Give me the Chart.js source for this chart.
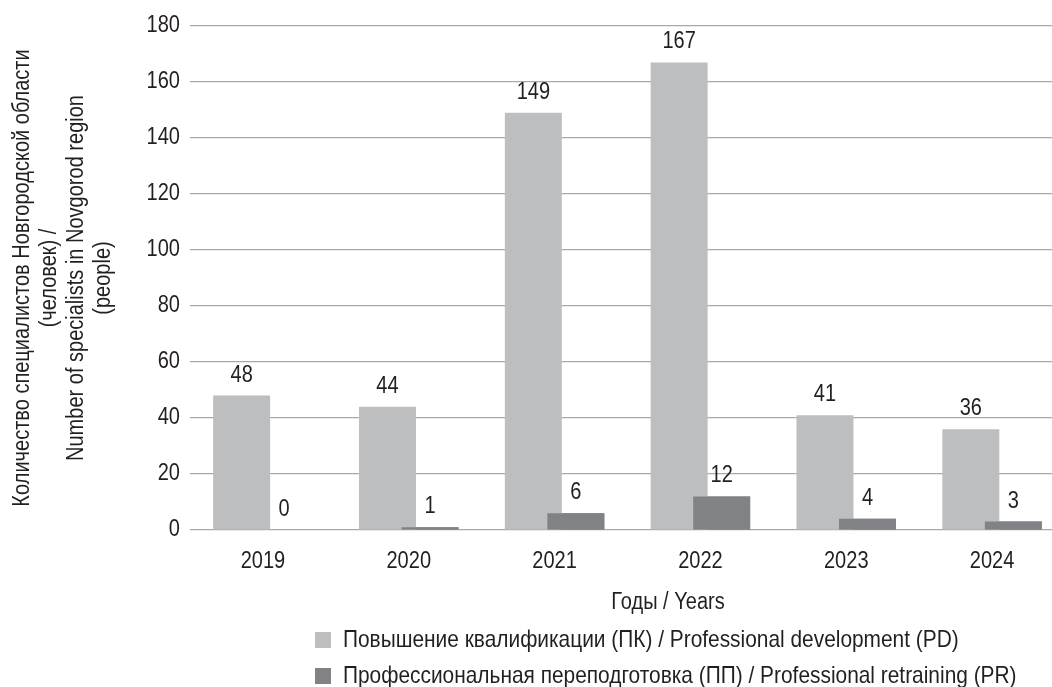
<!DOCTYPE html>
<html lang="ru">
<head>
<meta charset="utf-8">
<title>Специалисты Новгородской области</title>
<script src="https://cdn.jsdelivr.net/npm/chart.js@4.4.1/dist/chart.umd.min.js"></script>
<style>
  html, body { margin: 0; padding: 0; background: #fff; overflow: hidden; }
  #wrap { width: 1065px; height: 687px; }
</style>
</head>
<body>
<div id="wrap"><canvas id="trainingChart" width="1065" height="687"></canvas></div>
<script>
const years = ["2019", "2020", "2021", "2022", "2023", "2024"];
const pdValues = [48, 44, 149, 167, 41, 36];   // Повышение квалификации
const prValues = [0, 1, 6, 12, 4, 3];          // Профессиональная переподготовка
const yTicks = [0, 20, 40, 60, 80, 100, 120, 140, 160, 180];

const FONT = "'Liberation Sans', Arial, sans-serif";
const TEXT = "#231f20";
const GRID = "#a7a9ac";
const NARROW = 0.87;   // no condensed face installed, so squeeze glyphs horizontally
const PLOT_BOTTOM = 530;

Chart.defaults.font.family = FONT;
Chart.defaults.font.size = 23;
Chart.defaults.color = TEXT;

const canvas = document.getElementById("trainingChart");
const ctx = canvas.getContext("2d");
const plainFill = ctx.fillText.bind(ctx);
ctx.fillText = function(text, x, y, maxWidth) {
    const w = ctx.measureText(text).width * NARROW;
    plainFill(text, x, y, maxWidth === undefined ? w : Math.min(w, maxWidth));
};

// values over the bars; retraining bars are redrawn so they sit on top of the overlap
const valueLabels = {
    id: "valueLabels",
    afterDatasetsDraw(chart) {
        const c = chart.ctx;
        chart.getDatasetMeta(1).data.forEach(bar => bar.draw(c));
        c.save();
        c.font = "23px " + FONT;
        c.fillStyle = TEXT;
        c.textAlign = "center";
        c.textBaseline = "alphabetic";
        chart.data.datasets.forEach((ds, i) => {
            chart.getDatasetMeta(i).data.forEach((bar, j) => {
                c.fillText(String(ds.data[j]), bar.x, bar.y - 14);
            });
        });
        c.restore();
    }
};

// axis caption and legend sit under the plot, legend rows aligned on the left
const placeBoxes = {
    id: "placeBoxes",
    afterLayout(chart) {
        const t = chart.titleBlock;
        const dx = 668 - (t.left + t.right) / 2;
        t.left += dx;
        t.right += dx;
        t.top = 603 - t.height / 2;
        t.bottom = t.top + t.height;

        const lg = chart.legend;
        const pad = lg.options.labels.padding;
        lg.left = 315 - pad;
        lg.top = 640 - 12 - pad;
        lg.bottom = lg.top + lg.height;
    }
};

new Chart(ctx, {
    type: "bar",
    data: {
        labels: years,
        datasets: [
            {
                label: "Повышение квалификации (ПК) / Professional development (PD)",
                data: pdValues,
                backgroundColor: "#bcbec0"
            },
            {
                label: "Профессиональная переподготовка (ПП) / Professional retraining (PR)",
                data: prValues,
                backgroundColor: "#808285"
            }
        ]
    },
    options: {
        responsive: false,
        animation: false,
        categoryPercentage: 0.583,
        barPercentage: 1.34,
        layout: { padding: { top: 26, right: 0, bottom: 0, left: 0 } },
        plugins: {
            tooltip: { enabled: false },
            title: {
                display: true,
                position: "bottom",
                text: "Годы / Years",
                font: { size: 23, weight: "normal" },
                color: TEXT,
                padding: 0
            },
            legend: {
                position: "bottom",
                align: "start",
                labels: {
                    boxWidth: 16,
                    boxHeight: 16,
                    padding: 12,
                    color: TEXT,
                    font: { size: 24 }
                }
            }
        },
        scales: {
            x: {
                afterFit(scale) {
                    const ch = scale.chart;
                    scale.height = ch.height - PLOT_BOTTOM - ch.legend.height - ch.titleBlock.height;
                },
                grid: { display: false },
                border: { display: false },
                ticks: { padding: 10, color: TEXT }
            },
            y: {
                min: 0,
                max: 180,
                afterBuildTicks(scale) {
                    scale.ticks = yTicks.map(v => ({ value: v }));
                },
                afterFit(scale) {
                    scale.width = 190;
                },
                grid: { color: GRID, lineWidth: 1.2, drawTicks: false },
                border: { display: false },
                ticks: { padding: 10, color: TEXT },
                title: {
                    display: true,
                    text: [
                        "Количество специалистов Новгородской области",
                        "(человек) /",
                        "Number of specialists in Novgorod region",
                        "(people)"
                    ],
                    font: { size: 23, lineHeight: "27px" },
                    color: TEXT,
                    padding: { top: 9, bottom: 0 }
                }
            }
        }
    },
    plugins: [valueLabels, placeBoxes]
});
</script>
</body>
</html>
